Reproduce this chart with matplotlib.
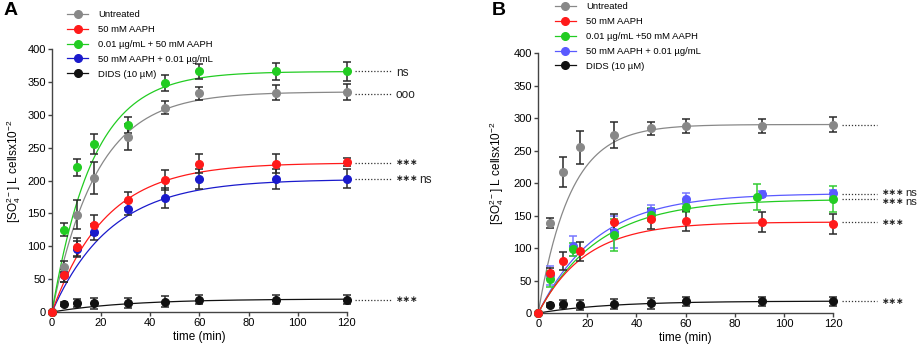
import numpy as np
import matplotlib
matplotlib.use("Agg")
import matplotlib.pyplot as plt
from matplotlib.lines import Line2D

plt.rcParams["font.family"] = ["Liberation Sans", "DejaVu Sans"]
plt.rcParams["mathtext.default"] = "regular"

labels_a = ["Untreated", "50 mM AAPH", "0.01 \u00b5g/mL + 50 mM AAPH",
            "50 mM AAPH + 0.01 \u00b5g/mL", "DIDS (10 \u00b5M)"]
labels_b = ["Untreated", "50 mM AAPH", "0.01 \u00b5g/mL +50 mM AAPH",
            "50 mM AAPH + 0.01 \u00b5g/mL", "DIDS (10 \u00b5M)"]

# panel A: time points and means / SEM
t_a = [0, 5, 10, 17, 31, 46, 60, 91, 120]
untr_a = [0, 69, 148, 204, 266, 311, 333, 334, 335]
untr_a_err = [0, 8, 22, 25, 20, 10, 10, 12, 12]
aaph_a = [0, 56, 99, 132, 171, 201, 226, 226, 228]
aaph_a_err = [0, 10, 13, 15, 12, 15, 15, 15, 6]
pre_a = [0, 125, 220, 256, 284, 349, 366, 366, 366]
pre_a_err = [0, 10, 13, 15, 12, 12, 12, 13, 15]
post_a = [0, 56, 96, 122, 157, 174, 202, 202, 203]
post_a_err = [0, 10, 12, 12, 10, 15, 15, 15, 15]
dids_a = [0, 12, 14, 13, 14, 16, 19, 19, 19]
dids_a_err = [0, 3, 6, 8, 8, 8, 7, 7, 7]
# one-phase association fits (plateau, rate)
fit_a_plateau = [335, 227, 366, 202, 20]
fit_a_rate = [0.055, 0.046, 0.060, 0.042, 0.032]
# significance marks: (stars, extra text)
stars_a = ["", "***", "", "***", "***"]
extra_a = ["ooo", "", "ns", "ns", ""]

# panel B
t_b = [0, 5, 10, 17, 31, 46, 60, 91, 120]
untr_b = [0, 139, 217, 255, 274, 284, 288, 288, 290]
untr_b_err = [0, 8, 23, 25, 20, 10, 11, 11, 11]
aaph_b = [0, 61, 80, 95, 140, 145, 142, 140, 137]
aaph_b_err = [0, 8, 14, 15, 12, 15, 15, 15, 16]
t_b2 = [0, 5, 14, 31, 46, 60, 89, 120]
pre_b = [0, 52, 98, 120, 151, 163, 178, 176]
pre_b_err = [0, 12, 10, 25, 10, 8, 20, 20]
t_b3 = [0, 5, 14, 31, 46, 60, 91, 120]
post_b = [0, 58, 103, 125, 157, 176, 183, 184]
post_b_err = [0, 15, 15, 25, 10, 8, 5, 5]
dids_b = [0, 12, 14, 12, 14, 15, 18, 18, 18]
dids_b_err = [0, 3, 6, 8, 7, 8, 7, 7, 7]
fit_b_plateau = [290, 140, 175, 184, 18.5]
fit_b_rate = [0.077, 0.052, 0.041, 0.042, 0.035]
stars_b = ["", "***", "***", "***", "***"]
extra_b = ["", "", "ns", "ns", ""]

colors_a = ["#888888", "#ff1a1a", "#22cc22", "#1a1acc", "#111111"]
colors_b = ["#888888", "#ff1a1a", "#22cc22", "#5a5aff", "#111111"]
errc_a = ["#2a2a2a"] * 5
errc_b = ["#2a2a2a", "#2a2a2a", "#33cc33", "#7777ff", "#2a2a2a"]

fig = plt.figure(figsize=(9.2, 3.51), dpi=100)
axA = fig.add_axes([0.0565, 0.111, 0.3205, 0.749])
axB = fig.add_axes([0.585, 0.108, 0.3205, 0.741])

series_a = [(t_a, untr_a, untr_a_err), (t_a, aaph_a, aaph_a_err), (t_a, pre_a, pre_a_err),
            (t_a, post_a, post_a_err), (t_a, dids_a, dids_a_err)]
series_b = [(t_b, untr_b, untr_b_err), (t_b, aaph_b, aaph_b_err), (t_b2, pre_b, pre_b_err),
            (t_b3, post_b, post_b_err), (t_b, dids_b, dids_b_err)]

draw_order = [4, 0, 3, 2, 1]
tt = np.linspace(0, 120, 300)


def draw_panel(ax, series, plateau, rate, colors, errc, stars, extra, line_y, text_y, ns_size):
    for z, i in enumerate(draw_order):
        t, y, e = series[i]
        ax.plot(tt, plateau[i] * (1 - np.exp(-rate[i] * tt)), color=colors[i],
                lw=0.9, zorder=2 + z * 0.1)
        ax.errorbar(t, y, yerr=e, fmt="none", ecolor=errc[i], elinewidth=1.1,
                    capsize=2.8, capthick=1.1, zorder=3 + z * 0.1, clip_on=False)
        ax.plot(t, y, "o", color=colors[i], ms=5.5, zorder=4 + z * 0.1,
                clip_on=False, mec=colors[i])
    for i in range(5):
        ax.plot([123.5, 138], [line_y[i], line_y[i]], ls=(0, (1, 1.5)),
                color="#333333", lw=0.9, clip_on=False)
        x = 140
        if stars[i]:
            ax.text(x, text_y[i], "\u2217\u2217\u2217", fontsize=6.5, va="center",
                    ha="left", color="#222222", clip_on=False,
                    family=["DejaVu Sans"], fontweight="bold")
            x += 9.5
        if extra[i]:
            ax.text(x, text_y[i], extra[i], fontsize=ns_size, va="center_baseline",
                    ha="left", color="#222222", clip_on=False)
    ax.set_xlim(0, 120)
    ax.set_ylim(0, 400)
    ax.set_xticks(range(0, 121, 20))
    ax.set_yticks(range(0, 401, 50))
    for s in ["top", "right"]:
        ax.spines[s].set_visible(False)
    for s in ["left", "bottom"]:
        ax.spines[s].set_linewidth(1.0)
        ax.spines[s].set_color("#444444")
    ax.tick_params(labelsize=8, length=3, width=1.0, color="#444444", pad=1.5)
    ax.set_xlabel("time (min)", fontsize=8.5, labelpad=2)
    ax.set_ylabel(r"[SO$_4^{2-}$] L cellsx10$^{-2}$", fontsize=8.5)


draw_panel(axA, series_a, fit_a_plateau, fit_a_rate, colors_a, errc_a, stars_a, extra_a,
           [332, 227, 366, 203, 19], [332, 227, 366, 203, 19], 8.5)
draw_panel(axB, series_b, fit_b_plateau, fit_b_rate, colors_b, errc_b, stars_b, extra_b,
           [289, 139.5, 175, 183.6, 18.5], [289, 139.5, 172, 186, 18.5], 8)
axA.yaxis.set_label_coords(-0.098, 0.536)
axB.yaxis.set_label_coords(-0.108, 0.538)

for ax, labels, colors, anchor in [(axA, labels_a, colors_a, (0.069, 0.982)),
                                   (axB, labels_b, colors_b, (0.599, 1.004))]:
    handles = [Line2D([0], [0], color=c, marker="o", ms=5.5, lw=0.9) for c in colors]
    fig.legend(handles, labels, loc="upper left", bbox_to_anchor=anchor,
               frameon=False, fontsize=6.8, handlelength=2.2, handletextpad=1.1,
               labelspacing=0.62, borderaxespad=0)

fig.text(0.004, 0.995, "A", fontsize=14, fontweight="bold", va="top")
fig.text(0.534, 0.995, "B", fontsize=14, fontweight="bold", va="top")

fig.savefig("out.png", dpi=100)
